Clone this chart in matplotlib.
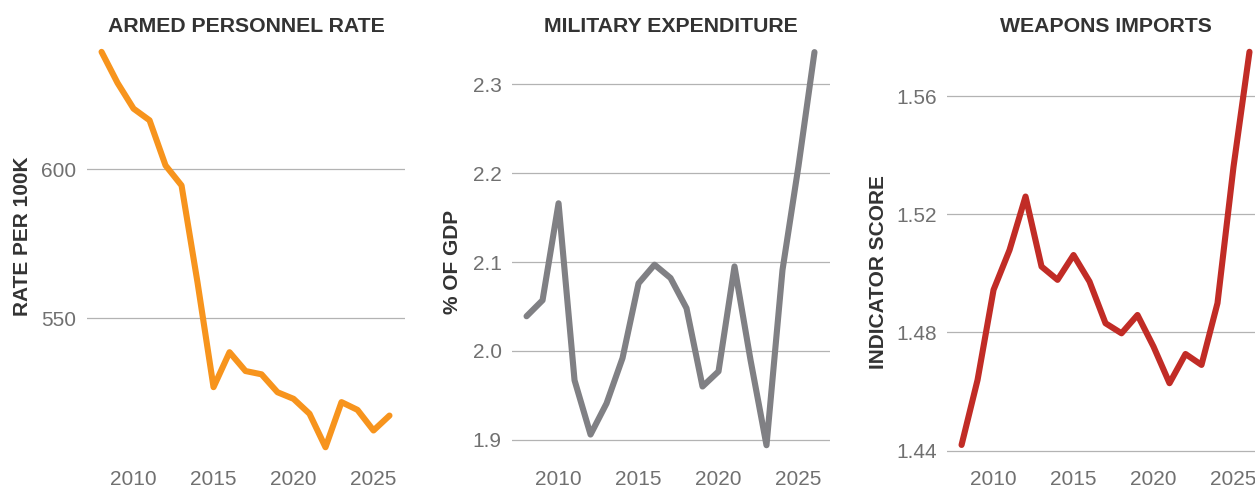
import matplotlib
matplotlib.use("Agg")
import matplotlib.pyplot as plt
import numpy as np

years = list(range(2008, 2027))

personnel_rate = [639.2, 628.8, 620.2, 616.3, 601.2, 594.5, 562.0, 527.0, 538.7, 532.4,
                  531.3, 525.3, 523.1, 518.1, 506.9, 522.0, 519.4, 512.5, 517.5]
military_exp = [2.039, 2.057, 2.166, 1.967, 1.906, 1.941, 1.992, 2.076, 2.097, 2.082,
                2.048, 1.960, 1.977, 2.095, 1.990, 1.894, 2.091, 2.208, 2.336]
weapons_imports = [1.4419, 1.4639, 1.4944, 1.5079, 1.5260, 1.5023, 1.4978, 1.5062, 1.4972,
                   1.4831, 1.4797, 1.4859, 1.4752, 1.4628, 1.4727, 1.4690, 1.4899, 1.5360,
                   1.5750]

titles = ["ARMED PERSONNEL RATE", "MILITARY EXPENDITURE", "WEAPONS IMPORTS"]
ylabels = ["RATE PER 100K", "% OF GDP", "INDICATOR SCORE"]
colors = ["#f7941d", "#808084", "#c12c26"]
yticks = [[550, 600], [1.9, 2.0, 2.1, 2.2, 2.3], [1.44, 1.48, 1.52, 1.56]]
ytick_fmt = ["{:.0f}", "{:.1f}", "{:.2f}"]
ylims = [(504.3, 641.5), (1.883, 2.344), (1.4385, 1.5773)]
xticks = [2010, 2015, 2020, 2025]

W, H = 1255, 487
plt.rcParams["font.family"] = ["Liberation Sans", "DejaVu Sans"]
fig = plt.figure(figsize=(W / 100, H / 100), dpi=100)

# axes placed in pixels; the third panel runs past the right edge like the reference
lefts = [87, 512, 947]
ax_w = 318
ax_top, ax_bottom = 45, 455
label_x = [23, 452, 878]
label_y = [236, 262, 272]

series = [personnel_rate, military_exp, weapons_imports]
for i in range(3):
    ax = fig.add_axes([lefts[i] / W, (H - ax_bottom) / H, ax_w / W, (ax_bottom - ax_top) / H])
    ax.plot(years, series[i], color=colors[i], lw=4.4,
            solid_capstyle="round", solid_joinstyle="round", zorder=3)
    ax.set_xlim(2007.09, 2026.97)
    ax.set_ylim(*ylims[i])
    ax.set_yticks(yticks[i])
    ax.set_yticklabels([ytick_fmt[i].format(v) for v in yticks[i]])
    ax.set_xticks(xticks)
    ax.grid(axis="y", color="#b3b3b3", lw=0.9)
    ax.set_axisbelow(True)
    for s in ax.spines.values():
        s.set_visible(False)
    ax.tick_params(axis="both", length=0, labelsize=15, labelcolor="#707070")
    ax.tick_params(axis="y", pad=7.5)
    ax.tick_params(axis="x", pad=10.5)
    ax.set_facecolor("none")

    cx = (lefts[i] + ax_w / 2) / W
    fig.text(cx, 1 - 26 / H, titles[i], ha="center", va="center",
             fontsize=15.3, fontweight="bold", color="#333333")
    fig.text(label_x[i] / W, 1 - label_y[i] / H, ylabels[i], rotation=90,
             ha="center", va="center", fontsize=15, fontweight="bold", color="#333333")

fig.savefig("out.png", dpi=100)
plt.close(fig)
